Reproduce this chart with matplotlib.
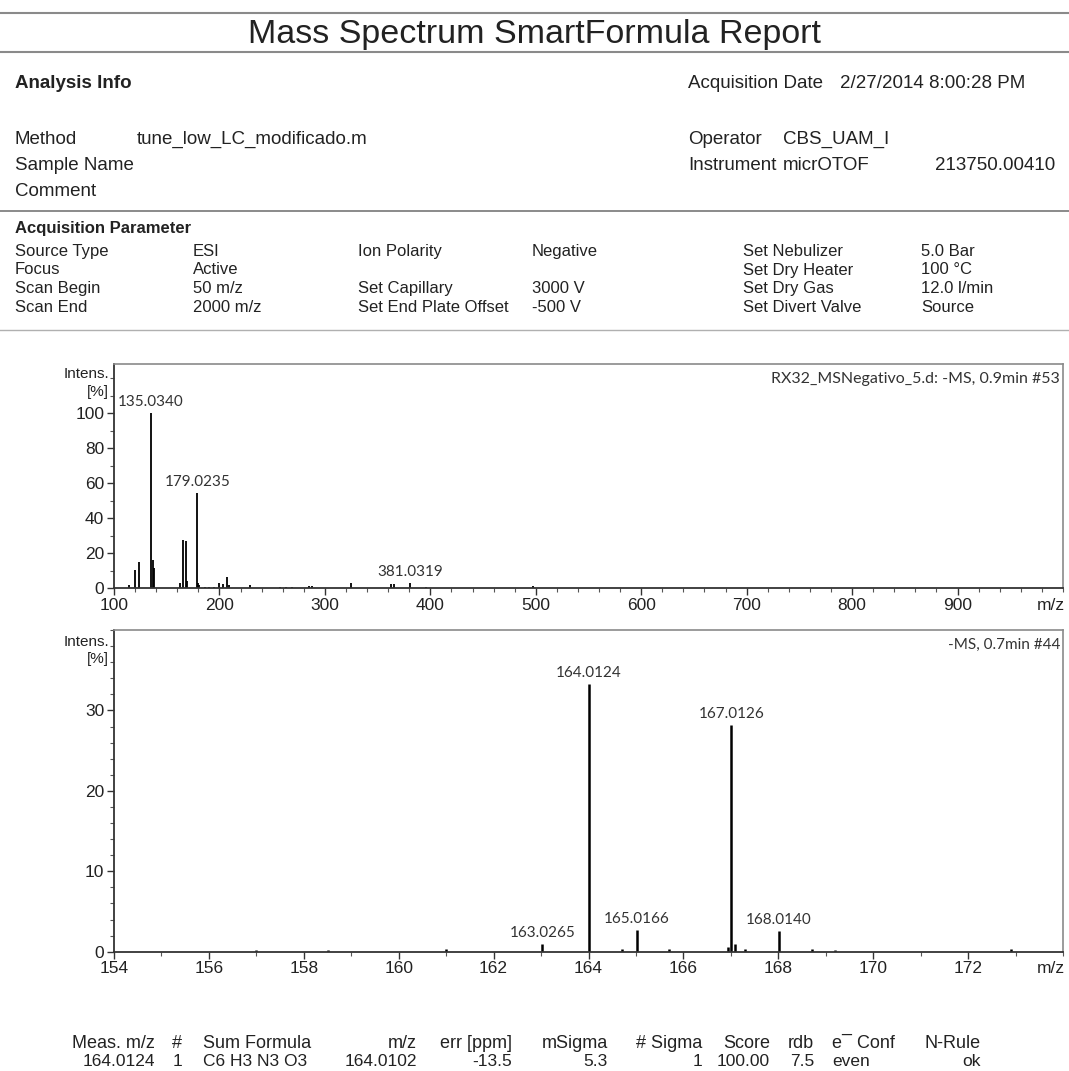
import matplotlib
matplotlib.use("Agg")
import matplotlib.pyplot as plt
from matplotlib.lines import Line2D
from matplotlib.ticker import MultipleLocator

# overview spectrum (-MS, 0.9 min)
full_mz = [114, 120, 124, 135.0340, 137, 138, 163, 165.5, 168.5, 169.5, 179.0235, 180, 181,
           186, 190, 195, 200, 203, 207, 209, 229, 257, 263, 269, 285, 288, 325,
           363, 366, 381.0319, 396, 497]
full_int = [2, 10.5, 15, 100, 16, 11.5, 3, 27.5, 27, 4, 54.5, 3, 2,
            1, 1, 1, 3, 2.5, 6.5, 2, 2, 1, 1, 1, 1.5, 1.5, 3,
            2.5, 2.5, 3, 1, 1.5]
full_labels = {135.0340: "135.0340", 179.0235: "179.0235", 381.0319: "381.0319"}

# zoomed spectrum (-MS, 0.7 min)
zoom_mz = [157.0, 158.5, 161.0, 163.0265, 164.0124, 164.7, 165.0166, 165.7,
           166.95, 167.0126, 167.08, 167.3, 168.0140, 168.7, 169.2, 172.9]
zoom_int = [0.2, 0.2, 0.3, 0.9, 33.3, 0.3, 2.7, 0.3,
            0.6, 28.2, 1.0, 0.3, 2.6, 0.3, 0.2, 0.3]
zoom_labels = {163.0265: "163.0265", 164.0124: "164.0124", 165.0166: "165.0166",
               167.0126: "167.0126", 168.0140: "168.0140"}

# header info
analysis_left = [("Method", "tune_low_LC_modificado.m"), ("Sample Name", ""), ("Comment", "")]
analysis_right = [("Operator", "CBS_UAM_I", ""), ("Instrument", "micrOTOF", "213750.00410")]
params = [
    ("Source Type", "ESI", "Ion Polarity", "Negative", "Set Nebulizer", "5.0 Bar"),
    ("Focus", "Active", "", "", "Set Dry Heater", "100 \u00b0C"),
    ("Scan Begin", "50 m/z", "Set Capillary", "3000 V", "Set Dry Gas", "12.0 l/min"),
    ("Scan End", "2000 m/z", "Set End Plate Offset", "-500 V", "Set Divert Valve", "Source"),
]
table_head = ["Meas. m/z", "#", "Sum Formula", "m/z", "err [ppm]", "mSigma", "# Sigma",
              "Score", "rdb", "e\u00af Conf", "N-Rule"]
table_row = ["164.0124", "1", "C6 H3 N3 O3", "164.0102", "-13.5", "5.3", "1",
             "100.00", "7.5", "even", "ok"]

W, H = 1069, 1071
ARIAL = ["Liberation Sans", "DejaVu Sans"]
LABELF = ["Lato", "DejaVu Sans"]


def fx(x):
    return x / W


def fy(y):
    return 1 - y / H


fig = plt.figure(figsize=(W / 100, H / 100), dpi=100)
fig.patch.set_facecolor("white")


def hline(y, color="#8a8a8a", lw=1.5):
    fig.add_artist(Line2D([0, 1], [fy(y), fy(y)], transform=fig.transFigure, color=color, lw=lw))


def t(x, y, s, size=12, ha="left", weight="normal", family=ARIAL, color="#222222"):
    fig.text(fx(x), fy(y), s, fontsize=size, ha=ha, va="center", fontweight=weight,
             family=family, color=color)


# title block
hline(13)
t(534, 34, "Mass Spectrum SmartFormula Report", size=24.5, ha="center")
hline(52)

t(15, 84, "Analysis Info", size=13.5, weight="bold")
t(688, 84, "Acquisition Date", size=13.5)
t(840, 84, "2/27/2014 8:00:28 PM", size=13.5)
for i, (k, v) in enumerate(analysis_left):
    t(15, 139 + i * 26.5, k, size=13.5)
    t(137, 139 + i * 26.5, v, size=13.5)
for i, (k, v, s) in enumerate(analysis_right):
    t(688, 139 + i * 26.5, k, size=13.5)
    t(783, 139 + i * 26.5, v, size=13.5)
    t(935, 139 + i * 26.5, s, size=13.5)

hline(211, lw=1.4)
t(15, 228, "Acquisition Parameter", size=12, weight="bold")
xcols = [15, 193, 358, 532, 743, 921]
for i, row in enumerate(params):
    for xc, s in zip(xcols, row):
        t(xc, 251 + i * 19, s, size=12)
hline(330, color="#b0b0b0", lw=1)

# spectra
ax1 = fig.add_axes([fx(114), fy(588.3), fx(1063) - fx(114), (588.3 - 364) / H])
ax2 = fig.add_axes([fx(114), fy(951.7), fx(1063) - fx(114), (951.7 - 630) / H])

ax1.vlines(full_mz, 0, full_int, color="black", lw=1.3)
ax1.set_xlim(100, 1000)
ax1.set_ylim(0, 128)
ax1.set_xticks(range(100, 1000, 100))
ax1.xaxis.set_minor_locator(MultipleLocator(20))
ax1.set_yticks([0, 20, 40, 60, 80, 100])
ax1.yaxis.set_minor_locator(MultipleLocator(10))
for m, s in full_labels.items():
    ax1.annotate(s, (m, full_int[full_mz.index(m)]), xytext=(0, 3), textcoords="offset points",
                 ha="center", va="bottom", fontsize=11, family=LABELF, color="#333333")
ax1.text(0.997, 0.965, "RX32_MSNegativo_5.d: -MS, 0.9min #53", transform=ax1.transAxes,
         ha="right", va="top", fontsize=11.5, family=LABELF, color="#333333")

ax2.vlines(zoom_mz, 0, zoom_int, color="black", lw=1.8)
ax2.set_xlim(154, 174)
ax2.set_ylim(0, 40)
ax2.set_xticks(range(154, 174, 2))
ax2.xaxis.set_minor_locator(MultipleLocator(1))
ax2.set_yticks([0, 10, 20, 30])
ax2.yaxis.set_minor_locator(MultipleLocator(2))
for m, s in zoom_labels.items():
    ax2.annotate(s, (m, zoom_int[zoom_mz.index(m)]), xytext=(0, 3), textcoords="offset points",
                 ha="center", va="bottom", fontsize=11, family=LABELF, color="#333333")
ax2.text(0.997, 0.975, "-MS, 0.7min #44", transform=ax2.transAxes,
         ha="right", va="top", fontsize=11, family=LABELF, color="#333333")

for ax in (ax1, ax2):
    for side in ("top", "right"):
        ax.spines[side].set_color("#8a8a8a")
        ax.spines[side].set_linewidth(1.2)
    for side in ("left", "bottom"):
        ax.spines[side].set_color("#333333")
        ax.spines[side].set_linewidth(1.3)
    ax.tick_params(which="major", direction="out", length=5, width=1, color="#333333",
                   labelsize=12.5, pad=2, labelcolor="#222222")
    ax.tick_params(which="minor", direction="out", length=3, width=0.8, color="#555555")
    for lab in ax.get_xticklabels() + ax.get_yticklabels():
        lab.set_family(ARIAL)
    ax.annotate("m/z", xy=(0.987, 0), xycoords="axes fraction", xytext=(0, -7),
                textcoords="offset points", ha="center", va="top",
                fontsize=12.5, family=ARIAL, color="#222222")
    ax.text(-0.005, 0.985, "Intens.\n[%]", transform=ax.transAxes, ha="right", va="top",
            fontsize=11, family=ARIAL, color="#222222", linespacing=1.3)

# formula table
tx = [155, 177, 203, 417, 512, 608, 702, 770, 814, 832, 981]
tha = ["right", "center", "left", "right", "right", "right", "right", "right", "right", "left", "right"]
for x, a, h, v in zip(tx, tha, table_head, table_row):
    t(x, 1044, h, size=13, ha=a)
    t(x, 1061, v, size=12.5, ha=a)

fig.savefig("out.png", dpi=100, facecolor="white")
